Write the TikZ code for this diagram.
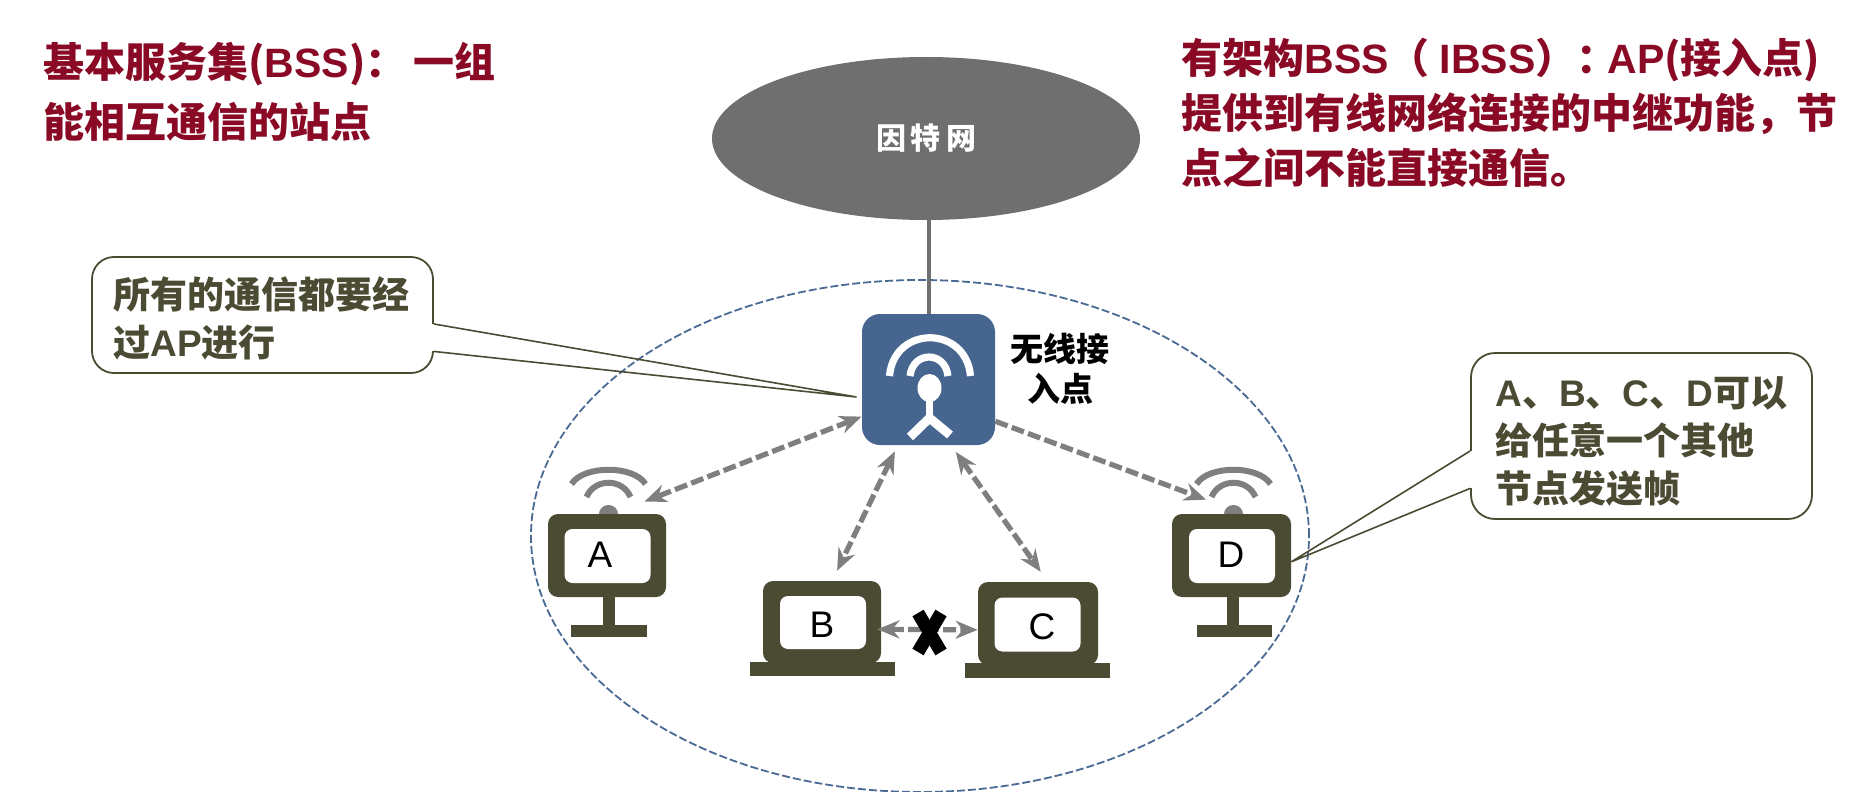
\documentclass[tikz,border=0pt]{standalone}
\usepackage{fontspec}
\setmainfont{Noto Sans CJK SC}
\newfontfamily\lat{Liberation Sans}
\usetikzlibrary{shapes.geometric,arrows.meta}
\definecolor{titlered}{HTML}{8A0A26}
\definecolor{olive}{HTML}{4B4B33}
\definecolor{apblue}{HTML}{466690}
\definecolor{ringblue}{HTML}{4A6A96}
\definecolor{cloudgray}{HTML}{6F6F6F}
\definecolor{linkgray}{HTML}{7F7F7F}
\newcommand{\La}[1]{{\lat #1}}
\newcommand{\WifiAt}[1]{%
  \begin{scope}[shift={(#1,0)}]
    \draw[wifiarc] (-37,484) .. controls (-25,465) and (25,465) .. (37,484);
    \draw[wifiarc] (-22,497) .. controls (-14,478) and (14,478) .. (22,497);
    \fill[linkgray] (0,514) ellipse (9.5 and 9);
  \end{scope}}
\tikzset{
  x=0.5pt,y=-0.5pt,
  wifiarc/.style={draw=linkgray,line width=3pt},
  titletext/.style={text=titlered,font=\bfseries\fontsize{20.5}{30}\selectfont,align=left,anchor=west,inner sep=0},
  notebox/.style={draw=olive,line width=0.9pt,fill=white,rounded corners=11pt,inner sep=0},
  notetext/.style={text=olive,font=\bfseries\fontsize{18.5}{24}\selectfont,align=left,anchor=west,inner sep=0},
  notetail/.style={draw=olive,line width=0.8pt},
  stationbody/.style={fill=olive,rounded corners=5pt,inner sep=0},
  stationscreen/.style={fill=white,rounded corners=4pt,inner sep=0,minimum width=43pt,minimum height=27pt},
  stationname/.style={inner sep=0,font=\lat\fontsize{18.5}{20}\selectfont},
  link/.style={draw=linkgray,line width=2.6pt,dash pattern=on 6.5pt off 2.2pt},
  linktip/.style={-{Stealth[length=11pt,width=9pt]}},
  linktips/.style={{Stealth[length=11pt,width=9pt]}-{Stealth[length=11pt,width=9pt]}},
  apicon/.style={draw=white,line width=3.6pt},
}
\begin{document}
\begin{tikzpicture}
\useasboundingbox[fill=white] (0,0) rectangle (1868,792);
% BSS ring
\node[ellipse,draw=ringblue,line width=0.9pt,dash pattern=on 4pt off 1.5pt,minimum width=389pt,minimum height=256pt,inner sep=0] (bss) at (920,536) {};
% Access point box
\node[fill=apblue,rounded corners=9pt,minimum width=66.5pt,minimum height=65.5pt,inner sep=0] (ap) at (928.5,379.5) {};
% Internet cloud
\draw[cloudgray,line width=2pt] (ap.north) -- (ap.north |- 0,220) coordinate (upl);
\node[ellipse,fill=cloudgray,minimum width=214pt,minimum height=81.5pt,inner sep=0,text=white,font=\bfseries\fontsize{15}{16}\selectfont] (cloud) at (926,138.5) {\raisebox{-1pt}{因\kern2.5pt 特\kern2.5pt 网}};
% AP icon
\draw[apicon] (889.5,376) .. controls (894,325) and (966,325) .. (970.5,376);
\draw[apicon] (910,376) .. controls (913,350.7) and (945,350.7) .. (948,376);
\fill[white] (929.5,388) ellipse (12 and 14);
\draw[apicon] (929.5,395) -- (929.5,420);
\draw[apicon,line width=4.5pt] (910,437) -- (929.5,418) -- (950,435);
\node[inner sep=0,align=center,font=\bfseries\fontsize{16.5}{20}\selectfont] (aplabel) at (1060,369) {无线接\\入点};
% Notes
\node[notebox,minimum width=170.5pt,minimum height=58pt] (lnote) at (262.5,315) {};
\node[notetext] (ltext) at (113,318) {所有的通信都要经\\过\La{AP}进行};
\node[notebox,rounded corners=12pt,minimum width=170.5pt,minimum height=83pt] (rnote) at (1641.5,436) {};
\node[notetext] (rtext) at (1495,441) {\La{A}、\La{B}、\La{C}、\La{D}可以\\给任意一个其他\\节点发送帧};
% Titles
\node[titletext] (ltitle) at (43,92) {基本服务集(\La{BSS})：\,一组\\能相互通信的站点};
\node[titletext,font=\bfseries\fontsize{20.5}{27.5}\selectfont] (rtitle) at (1181,113) {有架构\La{BSS}（\kern5pt\La{IBSS}）：\kern-5pt\La{AP}(接入点)\\提供到有线网络连接的中继功能，节\\点之间不能直接通信。};
% Station wifi
\WifiAt{608.5}
\WifiAt{1233.5}
% Monitors A and D
\node[stationbody,minimum width=59pt,minimum height=41.5pt] (a) at (607,555.5) {};
\node[stationscreen] (ascreen) at (607.5,556) {};
\node[stationname] (alabel) at (600,555) {A};
\fill[olive] (603,597) rectangle (615,626);
\fill[olive] (571,625) rectangle (647,637);
\node[stationbody,minimum width=59.5pt,minimum height=41.5pt] (d) at (1231.5,555.5) {};
\node[stationscreen] (dscreen) at (1232,556) {};
\node[stationname] (dlabel) at (1231,555) {D};
\fill[olive] (1227,597) rectangle (1239,626);
\fill[olive] (1197,625) rectangle (1272,637);
% Laptops B and C
\node[stationbody,minimum width=59pt,minimum height=41pt] (b) at (822,622) {};
\node[stationscreen,minimum height=26.5pt] (bscreen) at (823,622.5) {};
\node[stationname] (blabel) at (822,625) {B};
\fill[olive] (750,662) rectangle (895,676);
\node[stationbody,minimum width=60pt,minimum height=41.5pt] (c) at (1038,623.5) {};
\node[stationscreen,minimum height=27pt] (cscreen) at (1037.5,624.5) {};
\node[stationname] (clabel) at (1042,627) {C};
\fill[olive] (965,663) rectangle (1110,678);
% Note tails
\coordinate (ltip) at (856.5,397);
\draw[white,line width=1.6pt] (lnote.-3.02) -- (lnote.-12.56);
\draw[notetail] (lnote.-3.02) -- (ltip) -- (lnote.-12.56);
\draw[white,line width=1.6pt] (rnote.185.03) -- (rnote.197.9);
\draw[notetail] (rnote.185.03) -- (d.-6.3) -- (rnote.197.9);
% Links
\draw[link,linktips,shorten >=16.6pt] (ap.209.4) -- (a.81.8);
\draw[link,linktips,shorten <=3.3pt,shorten >=5.5pt] (ap.245) -- (b.76.3);
\draw[link,linktips,shorten <=4pt,shorten >=6pt] (ap.289) -- (c.77.8);
\draw[link,linktip,shorten >=20pt] (ap.-32.6) -- (d.74.5);
\draw[link,linktips,shorten <=-2pt] (b.-7.7) -- (c.186.2);
% Cross
\draw[black,line width=6.5pt] (918,613) -- (941,652);
\draw[black,line width=6.5pt] (941,613) -- (918,652);
\end{tikzpicture}
\end{document}
